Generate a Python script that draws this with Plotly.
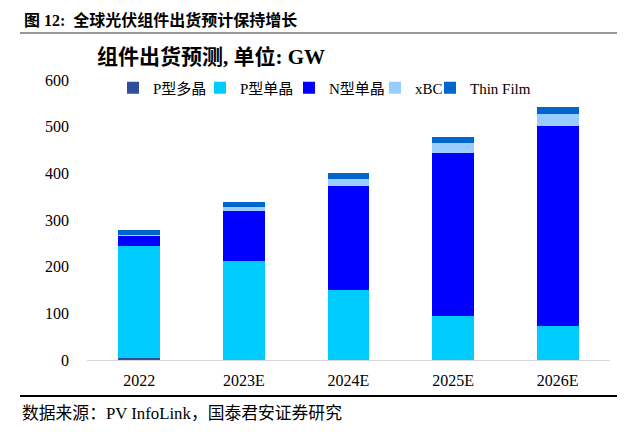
import plotly.graph_objects as go

categories = ["2022", "2023E", "2024E", "2025E", "2026E"]
p_multi = [4, 0, 0, 0, 0]
p_mono = [241, 212, 151, 95, 73]
n_mono = [21, 107, 222, 348, 429]
xbc = [1, 8, 15, 21, 26]
thin_film = [11, 11, 13, 14, 14]
y_ticks = [0, 100, 200, 300, 400, 500, 600]

series = [
    ("P型多晶", p_multi, "#2F4F9A"),
    ("P型单晶", p_mono, "#00CCFF"),
    ("N型单晶", n_mono, "#0000FF"),
    ("xBC", xbc, "#99CCFF"),
    ("Thin Film", thin_film, "#0066CC"),
]
# page x of each legend swatch centre
legend_swatch_x = [133, 220, 309, 395, 450]

FONT = "Liberation Serif, Noto Sans CJK SC, serif"
OFF = 8  # body margin offset of the page

W, H = 640 - OFF, 433 - OFF
L, R, T, B = 87 - OFF, 30, 80 - OFF, 73
pw, ph = W - L - R, H - T - B

def px(x):
    return (x - OFF - L) / pw

def py(y):
    return (H - B - (y - OFF)) / ph

fig = go.Figure()
legend_layouts = {}
for i, ((name, vals, col), sx) in enumerate(zip(series, legend_swatch_x)):
    lname = "legend" if i == 0 else f"legend{i + 1}"
    fig.add_trace(go.Bar(
        x=categories, y=vals, name=name, legend=lname,
        marker=dict(color=col, line=dict(width=0)),
    ))
    legend_layouts[lname] = dict(
        orientation="h", x=px(sx - 20), y=py(88), xanchor="left", yanchor="middle",
        font=dict(size=15, family=FONT), itemwidth=30, bgcolor="rgba(0,0,0,0)",
    )

fig.update_layout(
    width=W, height=H,
    barmode="stack", bargap=0.6,
    plot_bgcolor="white", paper_bgcolor="white",
    margin=dict(l=L, r=R, t=T, b=B),
    font=dict(family=FONT, size=16, color="#000000"),
    showlegend=True,
    xaxis=dict(showline=True, linecolor="#D9D9D9", linewidth=1, ticks="",
               tickfont=dict(size=16), ticklabelstandoff=6, fixedrange=True),
    yaxis=dict(range=[0, 600], tickvals=y_ticks, showgrid=False, zeroline=False,
               showline=False, ticks="", tickfont=dict(size=16),
               ticklabelstandoff=17, fixedrange=True),
    annotations=[
        dict(text="<b>图 12:  全球光伏组件出货预计保持增长</b>", x=px(22), y=py(20),
             xref="paper", yref="paper", xanchor="left", yanchor="middle",
             showarrow=False, font=dict(size=16, family=FONT)),
        dict(text="<b>组件出货预测, 单位: GW</b>", x=px(95), y=py(57),
             xref="paper", yref="paper", xanchor="left", yanchor="middle",
             showarrow=False, font=dict(size=21, family=FONT)),
        dict(text="数据来源：PV InfoLink，国泰君安证券研究", x=px(20), y=py(413),
             xref="paper", yref="paper", xanchor="left", yanchor="middle",
             showarrow=False, font=dict(size=16.8, family=FONT)),
    ],
    shapes=[
        dict(type="line", xref="paper", yref="paper", x0=px(20), x1=px(617),
             y0=py(33), y1=py(33), line=dict(color="#333333", width=1.2)),
        dict(type="line", xref="paper", yref="paper", x0=px(20), x1=px(617),
             y0=py(396), y1=py(396), line=dict(color="#000000", width=2)),
    ],
    **legend_layouts,
)

fig.write_html("out.html")
